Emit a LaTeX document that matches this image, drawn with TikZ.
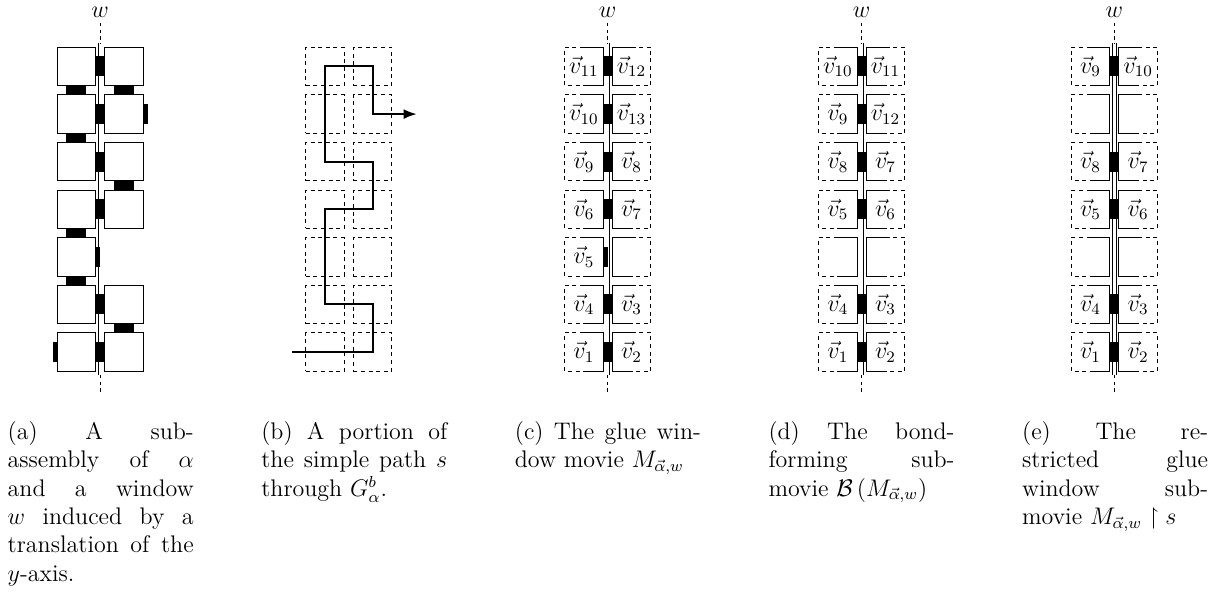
\documentclass[tikz,border=0pt]{standalone}
\usepackage{amsmath,amssymb}
\usetikzlibrary{arrows.meta}
\tikzset{
  tile/.style={draw, line width=0.5pt, fill=white, minimum size=19.2pt, inner sep=0pt, outer sep=0pt},
  ghost/.style={minimum size=19.2pt, inner sep=0pt, outer sep=0pt, font=\fontsize{12}{14}\selectfont},
  dtile/.style={draw, line width=0.45pt, dash pattern=on 2pt off 1.8pt, minimum size=19.2pt, inner sep=0pt, outer sep=0pt},
  solidhalf/.style={line width=0.5pt},
  dashhalf/.style={line width=0.45pt, dash pattern=on 2pt off 1.8pt},
  glueV/.style={fill=black, inner sep=0pt, outer sep=0pt, minimum width=4.6pt, minimum height=10pt},
  glueH/.style={fill=black, inner sep=0pt, outer sep=0pt, minimum width=10pt, minimum height=4.6pt},
  glueHalf/.style={fill=black, inner sep=0pt, outer sep=0pt, minimum width=2.3pt, minimum height=10pt},
  windowline/.style={line width=0.4pt, double, double distance=1.4pt},
  winext/.style={line width=0.4pt, dash pattern=on 1.7pt off 1.6pt},
  wlabel/.style={font=\fontsize{13}{15}\selectfont, anchor=base, inner sep=0pt},
  captext/.style={anchor=north west, inner sep=0pt, align=left, font=\fontsize{12}{14.2}\selectfont},
  routeline/.style={line width=1pt, line join=miter, -{Latex[length=6.5pt,width=5pt]}},
}
\newcommand{\ltile}[4]{%
  \node[ghost] (#1) at (#2,#3) {#4};
  \draw[solidhalf] (#1.north) -- (#1.north east) -- (#1.south east) -- (#1.south);
  \draw[dashhalf] (#1.north) -- (#1.north west) -- (#1.south west) -- (#1.south);
}
\newcommand{\rtile}[4]{%
  \node[ghost] (#1) at (#2,#3) {#4};
  \draw[solidhalf] (#1.north) -- (#1.north west) -- (#1.south west) -- (#1.south);
  \draw[dashhalf] (#1.north) -- (#1.north east) -- (#1.south east) -- (#1.south);
}
\newcommand{\windowaxis}[2]{% prefix, x
  \coordinate (#1t) at (#2,23);
  \coordinate (#1u) at (#2,43);
  \coordinate (#1d) at (#2,375);
  \coordinate (#1b) at (#2,394);
  \draw[windowline] (#1u) -- (#1d);
  \draw[winext] (#1t) -- (#1u) (#1d) -- (#1b);
  \node[wlabel] (#1lab) at (#2,17.5) {$w$};
}
\begin{document}
\begin{tikzpicture}[x=0.5pt,y=-0.5pt]
\useasboundingbox (0,0) rectangle (1222,592);

% ---------------- (a) ----------------
\windowaxis{wa}{100.2}
\node[tile] (a1l) at (76.4,66.5) {};  \node[tile] (a1r) at (124,66.5) {};
\node[tile] (a2l) at (76.4,114.1) {}; \node[tile] (a2r) at (124,114.1) {};
\node[tile] (a3l) at (76.4,161.7) {}; \node[tile] (a3r) at (124,161.7) {};
\node[tile] (a4l) at (76.4,209.3) {}; \node[tile] (a4r) at (124,209.3) {};
\node[tile] (a5l) at (76.4,256.9) {};
\node[tile] (a6l) at (76.4,304.5) {}; \node[tile] (a6r) at (124,304.5) {};
\node[tile] (a7l) at (76.4,352.1) {}; \node[tile] (a7r) at (124,352.1) {};
\foreach \r in {1,2,3,4,6,7}{\path (a\r l.east) -- (a\r r.west) node[midway,glueV] (ga\r) {};}
\node[glueHalf, anchor=west] (ga5) at (a5l.east) {};
\node[glueHalf, anchor=west] (ga2x) at (a2r.east) {};
\node[glueHalf, anchor=east] (ga7x) at (a7l.west) {};
\path (a1l.south) -- (a2l.north) node[midway,glueH] (h12l) {};
\path (a1r.south) -- (a2r.north) node[midway,glueH] (h12r) {};
\path (a2l.south) -- (a3l.north) node[midway,glueH] (h23l) {};
\path (a3r.south) -- (a4r.north) node[midway,glueH] (h34r) {};
\path (a4l.south) -- (a5l.north) node[midway,glueH] (h45l) {};
\path (a5l.south) -- (a6l.north) node[midway,glueH] (h56l) {};
\path (a6r.south) -- (a7r.north) node[midway,glueH] (h67r) {};

% ---------------- (b) ----------------
\foreach \r/\y in {1/66.5,2/114.1,3/161.7,4/209.3,5/256.9,6/304.5,7/352.1}{
  \node[dtile] (b\r l) at (325,\y) {};
  \node[dtile] (b\r r) at (372.6,\y) {};
}
\coordinate (bs) at (292,352.1);
\coordinate (be) at (416.7,114.1);
\draw[routeline] (bs) -- (b7r.center) -- (b6r.center) -- (b6l.center) -- (b4l.center)
  -- (b4r.center) -- (b3r.center) -- (b3l.center) -- (b1l.center) -- (b1r.center)
  -- (b2r.center) -- (be);

% ---------------- (c) ----------------
\windowaxis{wc}{607.7}
\ltile{c1l}{583.9}{66.5}{$\vec{v}_{11}$}  \rtile{c1r}{631.5}{66.5}{$\vec{v}_{12}$}
\ltile{c2l}{583.9}{114.1}{$\vec{v}_{10}$} \rtile{c2r}{631.5}{114.1}{$\vec{v}_{13}$}
\ltile{c3l}{583.9}{161.7}{$\vec{v}_{9}$}  \rtile{c3r}{631.5}{161.7}{$\vec{v}_{8}$}
\ltile{c4l}{583.9}{209.3}{$\vec{v}_{6}$}  \rtile{c4r}{631.5}{209.3}{$\vec{v}_{7}$}
\ltile{c5l}{583.9}{256.9}{$\vec{v}_{5}$}  \rtile{c5r}{631.5}{256.9}{}
\ltile{c6l}{583.9}{304.5}{$\vec{v}_{4}$}  \rtile{c6r}{631.5}{304.5}{$\vec{v}_{3}$}
\ltile{c7l}{583.9}{352.1}{$\vec{v}_{1}$}  \rtile{c7r}{631.5}{352.1}{$\vec{v}_{2}$}
\foreach \r in {1,2,3,4,6,7}{\path (c\r l.east) -- (c\r r.west) node[midway,glueV] (gc\r) {};}
\node[glueHalf, anchor=west] (gc5) at (c5l.east) {};

% ---------------- (d) ----------------
\windowaxis{wd}{861.7}
\ltile{d1l}{837.9}{66.5}{$\vec{v}_{10}$}  \rtile{d1r}{885.5}{66.5}{$\vec{v}_{11}$}
\ltile{d2l}{837.9}{114.1}{$\vec{v}_{9}$}  \rtile{d2r}{885.5}{114.1}{$\vec{v}_{12}$}
\ltile{d3l}{837.9}{161.7}{$\vec{v}_{8}$}  \rtile{d3r}{885.5}{161.7}{$\vec{v}_{7}$}
\ltile{d4l}{837.9}{209.3}{$\vec{v}_{5}$}  \rtile{d4r}{885.5}{209.3}{$\vec{v}_{6}$}
\ltile{d5l}{837.9}{256.9}{}               \rtile{d5r}{885.5}{256.9}{}
\ltile{d6l}{837.9}{304.5}{$\vec{v}_{4}$}  \rtile{d6r}{885.5}{304.5}{$\vec{v}_{3}$}
\ltile{d7l}{837.9}{352.1}{$\vec{v}_{1}$}  \rtile{d7r}{885.5}{352.1}{$\vec{v}_{2}$}
\foreach \r in {1,2,3,4,6,7}{\path (d\r l.east) -- (d\r r.west) node[midway,glueV] (gd\r) {};}

% ---------------- (e) ----------------
\windowaxis{we}{1114.3}
\ltile{e1l}{1090.5}{66.5}{$\vec{v}_{9}$}  \rtile{e1r}{1138.1}{66.5}{$\vec{v}_{10}$}
\ltile{e2l}{1090.5}{114.1}{}              \rtile{e2r}{1138.1}{114.1}{}
\ltile{e3l}{1090.5}{161.7}{$\vec{v}_{8}$} \rtile{e3r}{1138.1}{161.7}{$\vec{v}_{7}$}
\ltile{e4l}{1090.5}{209.3}{$\vec{v}_{5}$} \rtile{e4r}{1138.1}{209.3}{$\vec{v}_{6}$}
\ltile{e5l}{1090.5}{256.9}{}              \rtile{e5r}{1138.1}{256.9}{}
\ltile{e6l}{1090.5}{304.5}{$\vec{v}_{4}$} \rtile{e6r}{1138.1}{304.5}{$\vec{v}_{3}$}
\ltile{e7l}{1090.5}{352.1}{$\vec{v}_{1}$} \rtile{e7r}{1138.1}{352.1}{$\vec{v}_{2}$}
\foreach \r in {1,3,4,6,7}{\path (e\r l.east) -- (e\r r.west) node[midway,glueV] (ge\r) {};}

% ---------------- captions ----------------
\node[captext] (capa) at (7.3,421) {%
  \hbox to 93pt{(a)\hfill A\hfill sub-}\\
  \hbox to 93pt{assembly\hfill of\hfill $\alpha$}\\
  \hbox to 93pt{and\hfill a\hfill window}\\
  \hbox to 93pt{$w$\hfill induced\hfill by\hfill a}\\
  \hbox to 93pt{translation\hfill of\hfill the}\\
  $y$-axis.};
\node[captext] (capb) at (260.9,421) {%
  \hbox to 93pt{(b)\hfill A\hfill portion\hfill of}\\
  \hbox to 93pt{the\hfill simple\hfill path\hfill $s$}\\
  through $G^{b}_{\alpha}$.};
\node[captext] (capc) at (514.5,421) {%
  \hbox to 93pt{(c)\hfill The\hfill glue\hfill win-}\\
  dow movie $M_{\vec{\alpha},w}$};
\node[captext] (capd) at (768.1,421) {%
  \hbox to 93pt{(d)\hfill The\hfill bond-}\\
  \hbox to 93pt{forming\hfill sub-}\\
  movie $\mathcal{B}\left(M_{\vec{\alpha},w}\right)$};
\node[captext] (cape) at (1021.7,421) {%
  \hbox to 93pt{(e)\hfill The\hfill re-}\\
  \hbox to 93pt{stricted\hfill glue}\\
  \hbox to 93pt{window\hfill sub-}\\
  movie $M_{\vec{\alpha},w}\restriction s$};
\end{tikzpicture}
\end{document}
